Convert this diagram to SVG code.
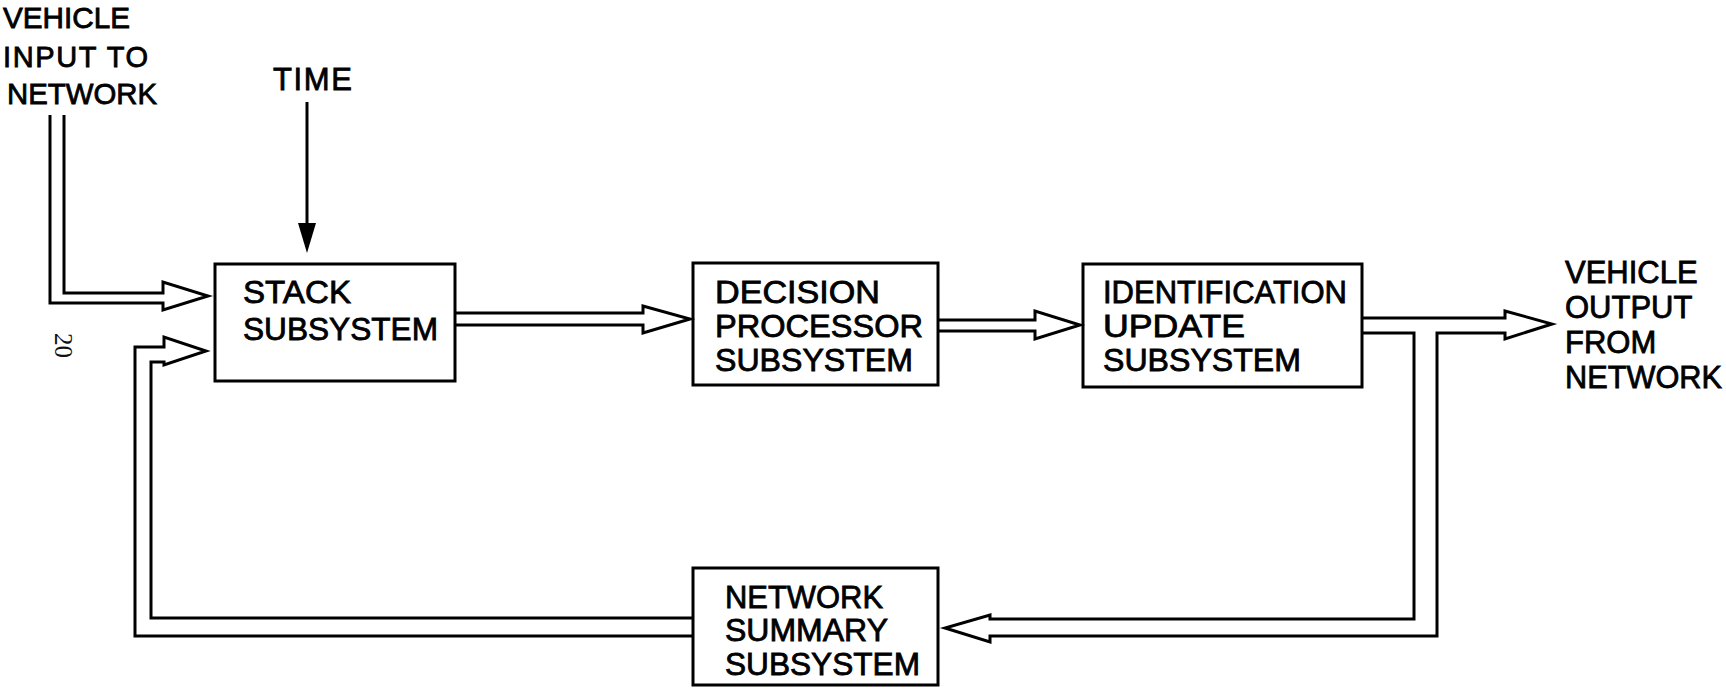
<svg xmlns="http://www.w3.org/2000/svg" width="1726" height="690" viewBox="0 0 1726 690">
<style>
.bg{fill:#fff}
.box{fill:none;stroke:#000;stroke-width:3}
.pipe{fill:none;stroke:#000;stroke-width:3;stroke-linejoin:miter}
.t{font-family:"Liberation Sans",Arial,sans-serif;font-size:31px;fill:#000;stroke:#000;stroke-width:0.8}
.s{font-size:29px}
.pg{font-family:"Liberation Serif","Times New Roman",serif;font-size:25px;fill:#111}
</style>
<rect class="bg" x="0" y="0" width="1726" height="690"/>
<g id="connectors">
<path class="pipe" d="M50,115 V303 H163 V310 L208,296 L163,282 V293 H64 V115"/>
<line x1="307" y1="102" x2="307" y2="226" stroke="#000" stroke-width="3"/>
<polygon points="298,223 316,223 307,253" fill="#000"/>
<path class="pipe" d="M455,313 H643 V306 L690,319 L643,333 V325 H455"/>
<path class="pipe" d="M938,320 H1035 V311 L1080,325 L1035,339 V331 H938"/>
<path class="pipe" d="M1362,318 H1505 V311 L1552,324 L1505,339 V333 H1437 V636 H990 V642 L945,628 L990,615 V619 H1414 V333 H1362"/>
<path class="pipe" d="M693,636 H135 V347 H164 V337 L206,351 L164,365 V362 H151 V618 H693"/>
</g>
<g id="input-label">
<text class="t s" x="3" y="28" textLength="127" lengthAdjust="spacingAndGlyphs">VEHICLE</text>
<text class="t s" x="3" y="67" textLength="145" lengthAdjust="spacing">INPUT TO</text>
<text class="t s" x="7" y="104" textLength="150" lengthAdjust="spacingAndGlyphs">NETWORK</text>
</g>
<g id="time-label">
<text class="t" x="273" y="90" textLength="79" lengthAdjust="spacing">TIME</text>
</g>
<g id="stack">
<rect class="box" x="215" y="264" width="240" height="117"/>
<text class="t" x="243" y="303" textLength="108" lengthAdjust="spacingAndGlyphs">STACK</text>
<text class="t" x="243" y="340" textLength="195" lengthAdjust="spacingAndGlyphs">SUBSYSTEM</text>
</g>
<g id="decision">
<rect class="box" x="693" y="263" width="245" height="122"/>
<text class="t" x="715" y="303" textLength="165" lengthAdjust="spacingAndGlyphs">DECISION</text>
<text class="t" x="715" y="337" textLength="208" lengthAdjust="spacingAndGlyphs">PROCESSOR</text>
<text class="t" x="715" y="371" textLength="198" lengthAdjust="spacingAndGlyphs">SUBSYSTEM</text>
</g>
<g id="identification">
<rect class="box" x="1083" y="264" width="279" height="123"/>
<text class="t" x="1103" y="303" textLength="244" lengthAdjust="spacingAndGlyphs">IDENTIFICATION</text>
<text class="t" x="1103" y="337" textLength="142" lengthAdjust="spacingAndGlyphs">UPDATE</text>
<text class="t" x="1103" y="371" textLength="198" lengthAdjust="spacingAndGlyphs">SUBSYSTEM</text>
</g>
<g id="output-label">
<text class="t" x="1565" y="283">VEHICLE</text>
<text class="t" x="1565" y="318">OUTPUT</text>
<text class="t" x="1565" y="353">FROM</text>
<text class="t" x="1565" y="388" textLength="157" lengthAdjust="spacingAndGlyphs">NETWORK</text>
</g>
<g id="summary">
<rect class="box" x="693" y="568" width="245" height="117"/>
<text class="t" x="725" y="608" textLength="158" lengthAdjust="spacingAndGlyphs">NETWORK</text>
<text class="t" x="725" y="641" textLength="163" lengthAdjust="spacingAndGlyphs">SUMMARY</text>
<text class="t" x="725" y="675" textLength="195" lengthAdjust="spacingAndGlyphs">SUBSYSTEM</text>
</g>
<g id="page-number">
<text class="pg" x="0" y="0" transform="translate(55,333) rotate(90)">20</text>
</g>
</svg>
